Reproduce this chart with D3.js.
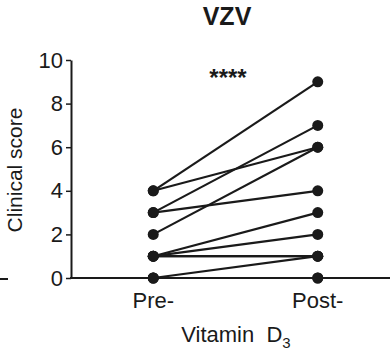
<!DOCTYPE html>
<html>
<head>
<meta charset="utf-8">
<script src="https://cdn.jsdelivr.net/npm/d3@7"></script>
<style>
	body { margin: 0; background: #fff; }
	text { font-family: Arial, "Liberation Sans", sans-serif; fill: #1a1a1a; }
</style>
</head>
<body>
<div id="chart"></div>
<script>
const categories = ["Pre-", "Post-"]
const preScores = [4, 4, 3, 3, 2, 1, 1, 1, 1, 0, 0, 0]
const postScores = [9, 6, 7, 4, 6, 3, 2, 1, 1, 1, 0, 0]
const yTicks = [0, 2, 4, 6, 8, 10]

const width = 390, height = 363
const ink = "#1a1a1a"

const svg = d3.select("#chart")
	.append("svg")
	.attr("width", width)
	.attr("height", height)

const x = d3.scalePoint().domain(categories).range([71, 400]).padding(0.5)
const y = d3.scaleLinear().domain([0, 10]).range([278, 60])

const pairs = preScores.map((d, i) => [d, postScores[i]])

// y axis
const yAxis = svg.append("g")
	.attr("transform", "translate(71,0)")
	.call(d3.axisLeft(y).tickValues(yTicks).tickSize(5).tickSizeOuter(0).tickPadding(3))
yAxis.select(".domain").attr("stroke", ink).attr("stroke-width", 2)
yAxis.selectAll(".tick line").attr("stroke", ink).attr("stroke-width", 1.5)
yAxis.selectAll(".tick text").attr("font-size", 22).attr("fill", ink)
	.attr("font-family", "Arial, 'Liberation Sans', sans-serif")

// x axis line
svg.append("line")
	.attr("x1", 70).attr("x2", width)
	.attr("y1", y(0)).attr("y2", y(0))
	.attr("stroke", ink).attr("stroke-width", 2)

// stray tick from neighbouring panel
svg.append("line")
	.attr("x1", 0).attr("x2", 8)
	.attr("y1", 279).attr("y2", 279)
	.attr("stroke", ink).attr("stroke-width", 2)

// paired lines
svg.append("g")
	.selectAll("line")
	.data(pairs)
	.join("line")
	.attr("x1", x(categories[0]))
	.attr("x2", x(categories[1]))
	.attr("y1", d => y(d[0]))
	.attr("y2", d => y(d[1]))
	.attr("stroke", ink)
	.attr("stroke-width", 2.2)

// dots
const dots = []
pairs.forEach(d => {
	dots.push([categories[0], d[0]])
	dots.push([categories[1], d[1]])
})
svg.append("g")
	.selectAll("circle")
	.data(dots)
	.join("circle")
	.attr("cx", d => x(d[0]))
	.attr("cy", d => y(d[1]))
	.attr("r", 5.5)
	.attr("fill", ink)

// category labels
svg.append("g")
	.selectAll("text")
	.data(categories)
	.join("text")
	.attr("x", d => x(d))
	.attr("y", 308)
	.attr("text-anchor", "middle")
	.attr("font-size", 22)
	.text(d => d)

// x title
const xt = svg.append("text")
	.attr("x", 236)
	.attr("y", 342)
	.attr("text-anchor", "middle")
	.attr("font-size", 22)
	.attr("xml:space", "preserve")
xt.append("tspan").text("Vitamin  D")
xt.append("tspan").attr("font-size", 15).attr("dy", 6).text("3")

// y title
svg.append("text")
	.attr("transform", "translate(22,170) rotate(-90)")
	.attr("text-anchor", "middle")
	.attr("font-size", 21)
	.text("Clinical score")

// title
svg.append("text")
	.attr("x", 227)
	.attr("y", 25)
	.attr("text-anchor", "middle")
	.attr("font-size", 25)
	.attr("font-weight", "bold")
	.text("VZV")

// significance
svg.append("text")
	.attr("x", 228)
	.attr("y", 86)
	.attr("text-anchor", "middle")
	.attr("font-size", 24)
	.attr("font-weight", "bold")
	.text("****")
</script>
</body>
</html>
